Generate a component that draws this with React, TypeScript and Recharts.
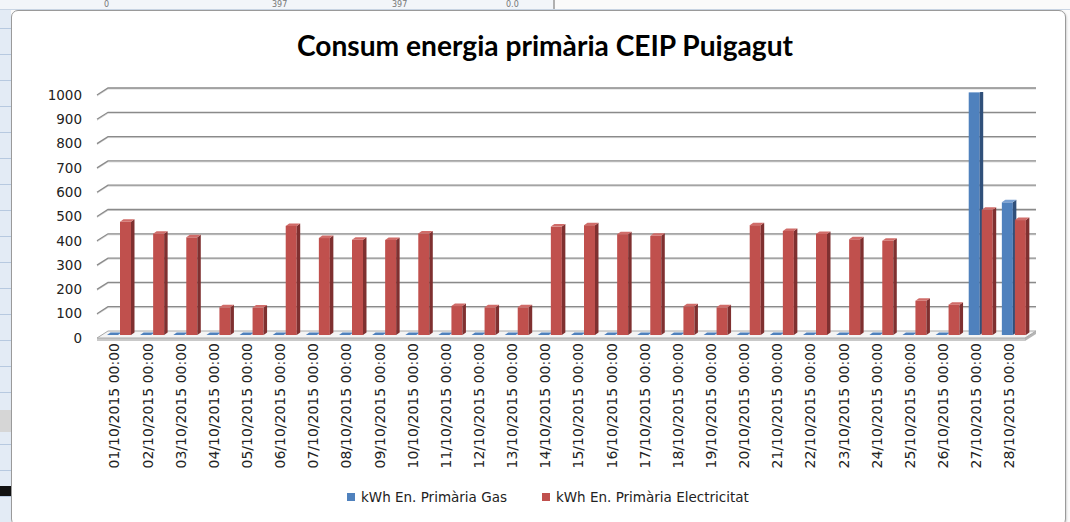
import { BarChart, Bar, XAxis, YAxis, CartesianGrid } from 'recharts';

const DATES = [
  '01/10/2015 00:00', '02/10/2015 00:00', '03/10/2015 00:00', '04/10/2015 00:00',
  '05/10/2015 00:00', '06/10/2015 00:00', '07/10/2015 00:00', '08/10/2015 00:00',
  '09/10/2015 00:00', '10/10/2015 00:00', '11/10/2015 00:00', '12/10/2015 00:00',
  '13/10/2015 00:00', '14/10/2015 00:00', '15/10/2015 00:00', '16/10/2015 00:00',
  '17/10/2015 00:00', '18/10/2015 00:00', '19/10/2015 00:00', '20/10/2015 00:00',
  '21/10/2015 00:00', '22/10/2015 00:00', '23/10/2015 00:00', '24/10/2015 00:00',
  '25/10/2015 00:00', '26/10/2015 00:00', '27/10/2015 00:00', '28/10/2015 00:00',
];

const GAS = [
  0, 0, 0, 0, 0, 0, 0, 0, 0, 0, 0, 0, 0, 0,
  0, 0, 0, 0, 0, 0, 0, 0, 0, 0, 0, 0, 998, 546,
];

const ELEC = [
  466, 417, 402, 114, 113, 449, 399, 392, 391, 418, 119, 114, 114, 446,
  452, 415, 408, 118, 114, 452, 428, 416, 394, 388, 141, 125, 515, 473,
];

const Y_TICKS = [0, 100, 200, 300, 400, 500, 600, 700, 800, 900, 1000];

const GAS_NAME = 'kWh En. Primària Gas';
const ELEC_NAME = 'kWh En. Primària Electricitat';

const data = DATES.map((d, i) => ({ date: d, gas: GAS[i], elec: ELEC[i] }));

const FONT = '"DejaVu Sans", sans-serif';
const DX = 3.5;
const DY = 2.5;

// 3D-ish column: front face, darker right side, lighter top
const make3DBar = (front: string, side: string, top: string) => (props: any) => {
  const { x, y, width, height } = props;
  if (x == null || y == null) return <g />;
  const h = Math.max(0, height || 0);
  return (
    <g>
      {h > 0 && <rect x={x} y={y} width={width} height={h} fill={front} />}
      {h > 0 && (
        <polygon
          points={`${x + width},${y} ${x + width + DX},${y - DY} ${x + width + DX},${y + h - DY} ${x + width},${y + h}`}
          fill={side}
        />
      )}
      <polygon
        points={`${x},${y} ${x + DX},${y - DY} ${x + width + DX},${y - DY} ${x + width},${y}`}
        fill={h > 0 ? top : front}
      />
    </g>
  );
};

const GridLine = (p: any) => {
  const { x1, x2, y1, index } = p;
  const y = y1;
  if (index === 0 || Math.abs(y - 335) < 1) {
    // floor slab
    return (
      <g key={`floor-${index}`}>
        <polygon points={`${x1 - 5},${y + 3} ${x2 - 5},${y + 3} ${x2 - 5},${y + 6} ${x1 - 5},${y + 6}`} fill="#c9c9c9" />
        <polygon points={`${x2 - 5},${y + 3} ${x2 + 6},${y - 4} ${x2 + 6},${y - 1} ${x2 - 5},${y + 6}`} fill="#b5b5b5" />
        <polygon
          points={`${x1 - 5},${y + 3} ${x1 + 6},${y - 4} ${x2 + 6},${y - 4} ${x2 - 5},${y + 3}`}
          fill="#f4f4f4"
          stroke="#a8a8a8"
          strokeWidth={1}
        />
      </g>
    );
  }
  return (
    <g key={`grid-${index}`}>
      <path d={`M${x1 - 5},${y + 4} L${x1 + 6},${y - 3} L${x2 + 6},${y - 3}`} fill="none" stroke="#d6d6d6" strokeWidth={1} />
      <path d={`M${x1 - 5},${y + 3} L${x1 + 6},${y - 4} L${x2 + 6},${y - 4}`} fill="none" stroke="#8a8a8a" strokeWidth={1.3} />
    </g>
  );
};

const XTick = (props: any) => {
  const { x, y, payload } = props;
  return (
    <text
      x={x - 4}
      y={y}
      transform={`rotate(-90, ${x - 4}, ${y})`}
      textAnchor="end"
      dy="0.35em"
      fontSize={14}
      fontFamily={FONT}
      fill="#222"
    >
      {payload.value}
    </text>
  );
};

const YTick = (props: any) => {
  const { x, y, payload } = props;
  return (
    <text x={x} y={y + 3} dy="0.35em" textAnchor="end" fontSize={13.5} fontFamily={FONT} fill="#222">
      {payload.value}
    </text>
  );
};

const TOP_CELLS = [
  { t: '0', x: 104 },
  { t: '397', x: 272 },
  { t: '397', x: 392 },
  { t: '0.0', x: 506 },
];

export default function App() {
  return (
    <div
      style={{
        position: 'absolute',
        left: 0,
        top: 0,
        width: 1070,
        height: 522,
        background: '#fbfbfb',
        overflow: 'hidden',
      }}
    >
      {/* spreadsheet bits around the chart */}
      <div style={{ position: 'absolute', left: 0, top: 0, width: 1070, height: 9, background: '#f2f5f9', borderBottom: '1px solid #c9d5e4' }}>
        <div style={{ position: 'absolute', left: 553, top: 0, width: 517, height: 9, background: '#fafafa', borderLeft: '2px solid #b0b0b0' }} />
        {TOP_CELLS.map((c, i) => (
          <span key={i} style={{ position: 'absolute', left: c.x, top: 0, fontSize: 8, lineHeight: '9px', fontFamily: FONT, color: '#777' }}>{c.t}</span>
        ))}
      </div>
      <div style={{ position: 'absolute', left: 0, top: 10, width: 11, height: 512, background: '#e3ebf5' }}>
        {Array.from({ length: 20 }).map((_, i) => (
          <div key={i} style={{ position: 'absolute', left: 0, top: 18 + i * 26, width: 11, height: 1, background: '#b7c9e0' }} />
        ))}
        <div style={{ position: 'absolute', left: 0, top: 400, width: 11, height: 22, background: '#d6d6d6' }} />
        <div style={{ position: 'absolute', left: 0, top: 476, width: 11, height: 10, background: '#111' }} />
      </div>

      {/* chart frame */}
      <div
        style={{
          position: 'absolute',
          left: 11,
          top: 10,
          width: 1053,
          height: 514,
          background: '#ffffff',
          border: '1px solid #9a9a9a',
          borderRadius: 7,
          boxShadow: '1px 1px 2px rgba(0,0,0,0.15)',
        }}
      />

      <div style={{ position: 'absolute', left: 0, top: 0 }}>
        <BarChart
          width={1070}
          height={522}
          data={data}
          margin={{ top: 92, right: 40, left: 0, bottom: 37 }}
          barSize={11}
          barGap={2}
        >
          <CartesianGrid vertical={false} horizontal={GridLine} />
          <XAxis
            dataKey="date"
            interval={0}
            height={150}
            tickSize={0}
            tickMargin={8}
            axisLine={false}
            tickLine={false}
            tick={<XTick />}
          />
          <YAxis
            domain={[0, 1000]}
            ticks={Y_TICKS}
            width={102}
            tickSize={0}
            tickMargin={20}
            axisLine={false}
            tickLine={false}
            tick={<YTick />}
            allowDataOverflow
          />
          <Bar
            dataKey="gas"
            name={GAS_NAME}
            fill="#4F81BD"
            isAnimationActive={false}
            shape={make3DBar('#4F81BD', '#30507a', '#7aa1d2')}
          />
          <Bar
            dataKey="elec"
            name={ELEC_NAME}
            fill="#C0504D"
            isAnimationActive={false}
            shape={make3DBar('#C0504D', '#7f3030', '#d06c69')}
          />
        </BarChart>
      </div>

      {/* title */}
      <svg style={{ position: 'absolute', left: 0, top: 0 }} width={1070} height={80}>
        <text
          x={545}
          y={56}
          textAnchor="middle"
          fontFamily="Lato, sans-serif"
          fontWeight={700}
          fontSize={29}
          textLength={496}
          lengthAdjust="spacingAndGlyphs"
          fill="#000"
        >
          Consum energia primària CEIP Puigagut
        </text>
      </svg>

      {/* legend */}
      <div style={{ position: 'absolute', left: 347, top: 489, height: 16, display: 'flex', alignItems: 'center', fontFamily: FONT, fontSize: 13.5, color: '#222', whiteSpace: 'nowrap' }}>
        <span style={{ width: 8, height: 8, background: '#4F81BD', display: 'inline-block', marginRight: 6 }} />
        <span>{GAS_NAME}</span>
        <span style={{ width: 8, height: 8, background: '#C0504D', display: 'inline-block', marginLeft: 35, marginRight: 6 }} />
        <span>{ELEC_NAME}</span>
      </div>
    </div>
  );
}
